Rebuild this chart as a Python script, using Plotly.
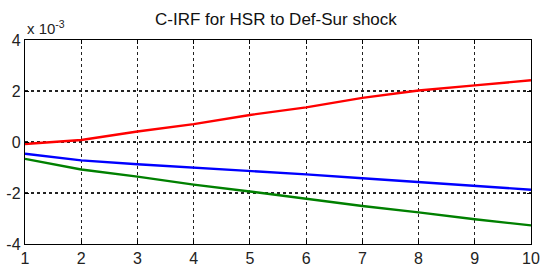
import plotly.graph_objects as go

horizon = [1, 2, 3, 4, 5, 6, 7, 8, 9, 10]
# values in units of 1e-3
red_vals = [-0.08, 0.08, 0.41, 0.70, 1.06, 1.36, 1.73, 2.02, 2.22, 2.42]
blue_vals = [-0.46, -0.72, -0.87, -1.00, -1.13, -1.27, -1.42, -1.57, -1.72, -1.87]
green_vals = [-0.66, -1.08, -1.36, -1.67, -1.94, -2.23, -2.51, -2.76, -3.03, -3.27]
y_ticks = [-4, -2, 0, 2, 4]
y_tick_labels = ["-4", "-2", "0", "2", "4"]
x_ticks = horizon

fig = go.Figure()
for vals, col in [(red_vals, "#ff0000"), (blue_vals, "#0000ff"), (green_vals, "#008000")]:
    fig.add_trace(go.Scatter(x=horizon, y=vals, mode="lines",
                             line=dict(color=col, width=2.4), showlegend=False,
                             hoverinfo="skip"))

axis_common = dict(showline=True, linecolor="black", linewidth=1.2, mirror="ticks",
                   ticks="inside", ticklen=4, tickcolor="black",
                   showgrid=True, gridcolor="#222222", griddash="3px,3px", gridwidth=1.2,
                   zeroline=False, automargin=False,
                   tickfont=dict(family="Liberation Sans, Arial", size=16, color="#222222"))

fig.update_xaxes(range=[1, 10], tickvals=x_ticks, **axis_common)
fig.update_yaxes(range=[-4, 4], tickvals=y_ticks, ticktext=y_tick_labels, **axis_common)

fig.update_layout(
    width=541, height=268,
    margin=dict(l=25, r=10, t=40, b=24),
    plot_bgcolor="white", paper_bgcolor="white",
    title=dict(text="C-IRF for HSR to Def-Sur shock", x=0.51, xanchor="center",
               y=0.93, yanchor="middle",
               font=dict(family="Liberation Sans, Arial", size=17, color="#111111")),
    annotations=[dict(text="x 10<sup>-3</sup>", xref="paper", yref="paper",
                      x=0.0, y=1.0, xanchor="left", yanchor="bottom", yshift=1, showarrow=False,
                      font=dict(family="Liberation Sans, Arial", size=15, color="#222222"))],
)

fig.write_html("out.html", config={"displayModeBar": False, "staticPlot": True},
               post_script="document.body.style.margin='0px';document.body.style.overflow='hidden';")
